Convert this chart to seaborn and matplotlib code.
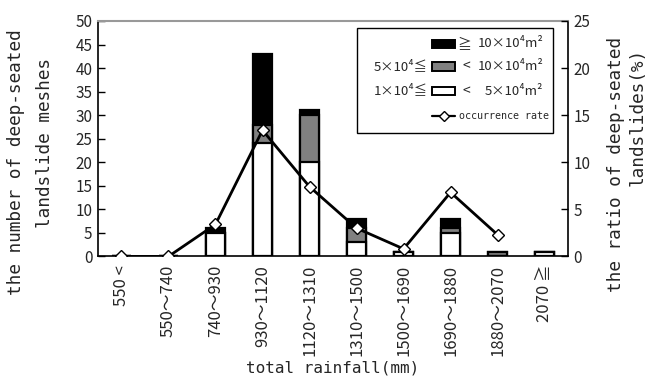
import matplotlib
matplotlib.use("Agg")
import matplotlib.pyplot as plt
from matplotlib.patches import Rectangle
from matplotlib.lines import Line2D
import seaborn as sns
import pandas as pd
import numpy as np

# Data
rain_classes = ["550 <", "550～740", "740～930", "930～1120", "1120～1310",
                "1310～1500", "1500～1690", "1690～1880", "1880～2070", "2070 ≧"]
small_counts = [0, 0, 5, 24, 20, 3, 1, 5, 0, 1]     # 1e4 <= area < 5e4 m2
medium_counts = [0, 0, 0, 4, 10, 3, 0, 1, 1, 0]    # 5e4 <= area < 10e4 m2
large_counts = [0, 0, 1, 15, 1, 2, 0, 2, 0, 0]     # area >= 10e4 m2
rate_classes = rain_classes[:9]
occurrence_rate = [0, 0, 3.4, 13.4, 7.4, 3.0, 0.8, 6.8, 2.3]

sns.set_theme(style="white")
mono = ["DejaVu Sans Mono", "Noto Sans CJK JP"]
narrow = ["Liberation Sans Narrow", "Noto Sans CJK JP"]
plt.rcParams["font.family"] = narrow

df = pd.DataFrame({
    "cls": rain_classes,
    "small": small_counts,
    "medium": medium_counts,
    "large": large_counts,
})
df["mid_top"] = df["small"] + df["medium"]
df["top"] = df["mid_top"] + df["large"]

fig, ax = plt.subplots(figsize=(6.53, 3.81), dpi=100)
fig.subplots_adjust(left=0.150, right=0.870, top=0.945, bottom=0.327)

# stacked bars drawn as overlays: total (black), then small+medium (grey), then small (white)
for col, color in [("top", "black"), ("mid_top", "#808080"), ("small", "white")]:
    sns.barplot(data=df, x="cls", y=col, order=rain_classes, color=color,
                width=0.42, edgecolor="black", linewidth=1.6, saturation=1,
                ax=ax, zorder=2)

ax.set_xlim(-0.5, 9.5)
ax.set_ylim(0, 50)
ax.set_yticks(np.arange(0, 51, 5))
ax.set_xticks(range(10))
ax.set_xticklabels(rain_classes, rotation=90, fontsize=12, family=narrow)
ax.tick_params(axis="x", which="major", length=0, pad=6)
ax.set_xticks(np.arange(0.5, 9, 1), minor=True)
ax.tick_params(axis="x", which="minor", direction="in", length=5, width=1, color="black")
ax.tick_params(axis="y", direction="in", length=5, width=1, color="black",
               labelsize=11, pad=4, left=True)
for lab in ax.get_yticklabels():
    lab.set_family(narrow)
ax.set_xlabel("total rainfall(mm)", fontsize=11.5, family=mono)
ax.xaxis.set_label_coords(0.5, -0.44)
ax.set_ylabel("")
for side in ["left", "bottom", "right"]:
    ax.spines[side].set_color("black")
    ax.spines[side].set_linewidth(1.2)
ax.spines["top"].set_color("#999999")
ax.spines["top"].set_linewidth(1.5)

# axis titles, one text per line so each line sits where the original has it
title_kw = dict(rotation=90, ha="center", va="center", fontsize=12.8, family=mono)
fig.text(16 / 653, 1 - 162 / 381, "the number of deep-seated", **title_kw)
fig.text(45 / 653, 1 - 143 / 381, "landslide meshes", **title_kw)
fig.text(616 / 653, 1 - 164 / 381, "the ratio of deep-seated", **title_kw)
fig.text(638 / 653, 1 - 117 / 381, "landslides(%)", **title_kw)

# occurrence rate line on the secondary axis
ax2 = ax.twinx()
rate_df = pd.DataFrame({"pos": np.arange(len(rate_classes)), "rate": occurrence_rate})
sns.lineplot(data=rate_df, x="pos", y="rate", color="black", linewidth=2,
             marker="D", markersize=6.5, markerfacecolor="white",
             markeredgecolor="black", markeredgewidth=1, ax=ax2, zorder=3)
ax2.set_ylim(0, 25)
ax2.set_yticks(np.arange(0, 26, 5))
ax2.set_xlim(-0.5, 9.5)
ax2.tick_params(axis="y", direction="in", length=5, width=1, color="black",
                labelsize=11, pad=4, right=True)
for lab in ax2.get_yticklabels():
    lab.set_family(narrow)
ax2.set_ylabel("")
ax2.set_xlabel("")
for s in ax2.spines.values():
    s.set_visible(False)

# hand-built legend (labels sit on both sides of the swatches)
tr = ax2.transAxes
ax2.add_patch(Rectangle((0.551, 0.525), 0.417, 0.446, transform=tr, facecolor="white",
                        edgecolor="black", linewidth=1, zorder=5))
rows_y = [0.903, 0.807, 0.702, 0.597]
hx0, hx1 = 0.711, 0.760
for y, fc in zip(rows_y[:3], ["black", "#808080", "white"]):
    ax2.add_patch(Rectangle((hx0, y - 0.018), hx1 - hx0, 0.036, transform=tr,
                            facecolor=fc, edgecolor="black", linewidth=1.4, zorder=6))
ax2.add_line(Line2D([hx0, (hx0 + hx1) / 2, hx1], [rows_y[3]] * 3, transform=tr,
                    color="black", linewidth=1.6, marker="D", markevery=[1],
                    markersize=5, markerfacecolor="white", markeredgecolor="black",
                    zorder=6))
legend_font = dict(transform=tr, fontsize=9.5, va="center", zorder=7, family=narrow)
symbol_font = dict(transform=tr, fontsize=10, va="center", ha="left", zorder=7,
                   family=["Noto Sans CJK JP"])
ax2.text(0.764, rows_y[0], "≧", **symbol_font)
ax2.text(0.776, rows_y[1], "<", **symbol_font)
ax2.text(0.776, rows_y[2], "<", **symbol_font)
ax2.text(0.947, rows_y[0], "10×10⁴m²", ha="right", **legend_font)
ax2.text(0.947, rows_y[1], "10×10⁴m²", ha="right", **legend_font)
ax2.text(0.947, rows_y[2], "5×10⁴m²", ha="right", **legend_font)
ax2.text(0.701, rows_y[1], "5×10⁴≦", ha="right", **legend_font)
ax2.text(0.701, rows_y[2], "1×10⁴≦", ha="right", **legend_font)
ax2.text(0.768, rows_y[3], "occurrence rate", ha="left", transform=tr, fontsize=7.2,
         va="center", zorder=7, family=mono)

fig.savefig("out.png", dpi=100)
